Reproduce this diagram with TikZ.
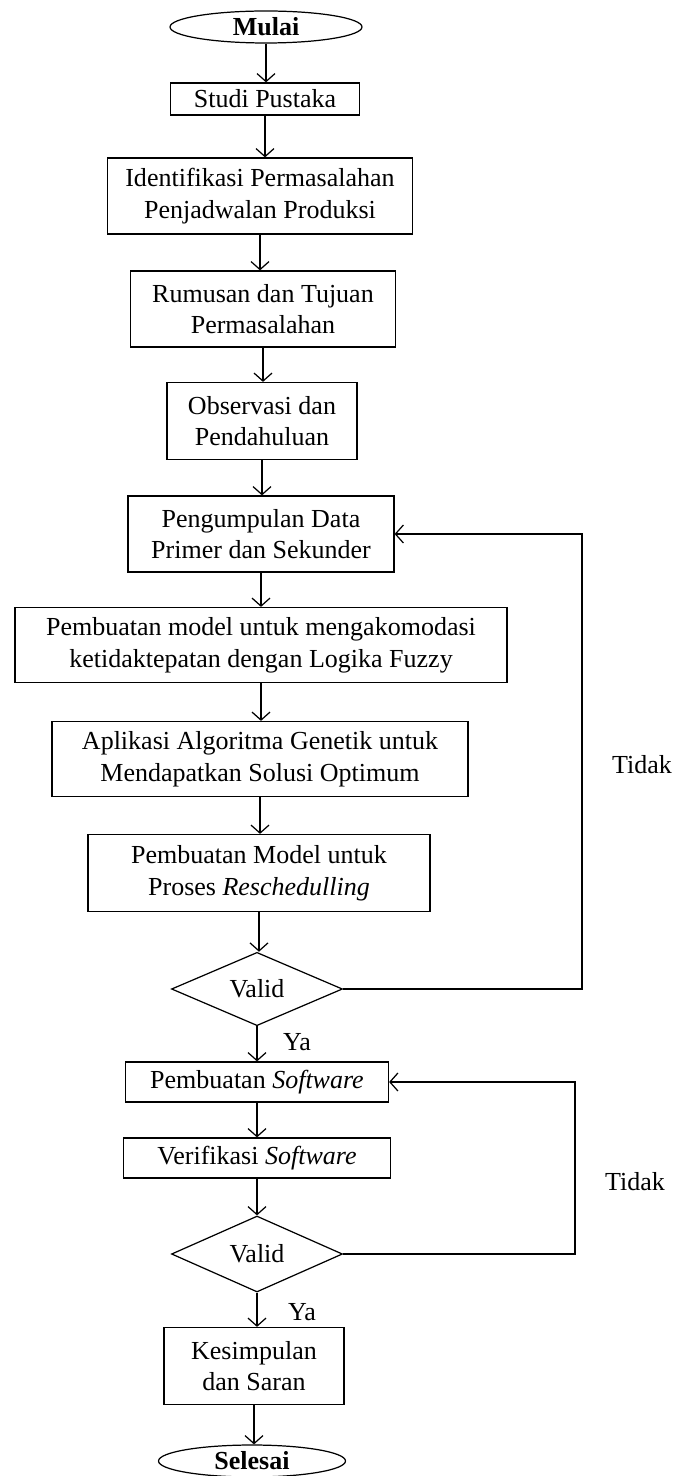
\documentclass[tikz,border=0pt]{standalone}
\usepackage{fontspec}
\setmainfont{Liberation Serif}
\usepackage{tikz}
\usetikzlibrary{arrows.meta,positioning,shapes.geometric}

\newcommand{\ukuranhuruf}{\fontsize{14.8}{18}\selectfont}

\tikzset{
    proses/.style={draw, line width=0.7pt, rectangle, align=center, inner sep=2pt},
    terminal/.style={draw, line width=0.7pt, ellipse, inner sep=0pt, font=\ukuranhuruf\bfseries},
    keputusan/.style={draw, line width=0.7pt, diamond, inner sep=0pt},
    alur/.style={line width=0.7pt, -{Straight Barb[length=1.6mm,width=3.6mm]}}
}

\begin{document}
\begin{tikzpicture}[x=0.02cm, y=-0.02cm, font=\ukuranhuruf]
    \useasboundingbox (0,0) rectangle (675,1476);

    % Main flow
    \node[terminal, minimum width=3.84cm, minimum height=0.64cm] (mulai) at (266,27) {Mulai};
    \node[proses, minimum width=3.78cm, minimum height=0.64cm] (studi) at (265,99) {Studi Pustaka};
    \node[proses, minimum width=6.1cm, minimum height=1.52cm] (identifikasi) at (260,196) {Identifikasi Permasalahan\\Penjadwalan Produksi};
    \node[proses, minimum width=5.3cm, minimum height=1.52cm] (rumusan) at (263,309) {Rumusan dan Tujuan\\Permasalahan};
    \node[proses, minimum width=3.8cm, minimum height=1.54cm] (observasi) at (262,421) {Observasi dan\\Pendahuluan};
    \node[proses, minimum width=5.32cm, minimum height=1.52cm] (pengumpulan) at (261,534) {Pengumpulan Data\\Primer dan Sekunder};
    \node[proses, minimum width=9.84cm, minimum height=1.5cm] (fuzzy) at (261,645) {Pembuatan model untuk mengakomodasi\\ketidaktepatan dengan Logika Fuzzy};
    \node[proses, minimum width=8.32cm, minimum height=1.5cm] (genetik) at (260,759) {Aplikasi Algoritma Genetik untuk\\Mendapatkan Solusi Optimum};
    \node[proses, minimum width=6.84cm, minimum height=1.54cm] (resched) at (259,873) {Pembuatan Model untuk\\Proses \textit{Reschedulling}};
    \node[keputusan, minimum width=3.42cm, minimum height=1.46cm] (valid1) at (257,989) {Valid};

    \node[proses, minimum width=5.26cm, minimum height=0.8cm] (software) at (257,1082) {Pembuatan \textit{Software}};
    \node[proses, minimum width=5.34cm, minimum height=0.8cm] (verifikasi) at (257,1158) {Verifikasi \textit{Software}};
    \node[keputusan, minimum width=3.42cm, minimum height=1.52cm] (valid2) at (257,1254) {Valid};

    \node[proses, minimum width=3.6cm, minimum height=1.54cm] (kesimpulan) at (254,1366) {Kesimpulan\\dan Saran};
    \node[terminal, minimum width=3.74cm, minimum height=0.64cm] (selesai) at (252,1461) {Selesai};

    \draw[alur] (mulai.south) -- (mulai.south |- studi.north);
    \draw[alur] (studi.south) -- (studi.south |- identifikasi.north);
    \draw[alur] (identifikasi.south) -- (identifikasi.south |- rumusan.north);
    \draw[alur] (rumusan.south) -- (rumusan.south |- observasi.north);
    \draw[alur] (observasi.south) -- (observasi.south |- pengumpulan.north);
    \draw[alur] (pengumpulan.south) -- (pengumpulan.south |- fuzzy.north);
    \draw[alur] (fuzzy.south) -- (fuzzy.south |- genetik.north);
    \draw[alur] (genetik.south) -- (genetik.south |- resched.north);
    \draw[alur] (resched.south) -- (resched.south |- valid1.north);
    \draw[alur] (valid1.south) -- (valid1.south |- software.north);
    \draw[alur] (software.south) -- (software.south |- verifikasi.north);
    \draw[alur] (verifikasi.south) -- (verifikasi.south |- valid2.north);
    \draw[alur] (valid2.south) -- (valid2.south |- kesimpulan.north);
    \draw[alur] (kesimpulan.south) -- (kesimpulan.south |- selesai.north);

    % Feedback loops
    \coordinate (balik1) at (582,989);
    \coordinate (balik2) at (575,1254);
    \draw[alur] (valid1.east) -- (balik1) |- (pengumpulan.east);
    \draw[alur] (valid2.east) -- (balik2) |- (software.east);

    \node (ya1) at (297,1042) {Ya};
    \node (ya2) at (302,1312) {Ya};
    \node (tidak1) at (642,765) {Tidak};
    \node (tidak2) at (635,1182) {Tidak};
\end{tikzpicture}
\end{document}
